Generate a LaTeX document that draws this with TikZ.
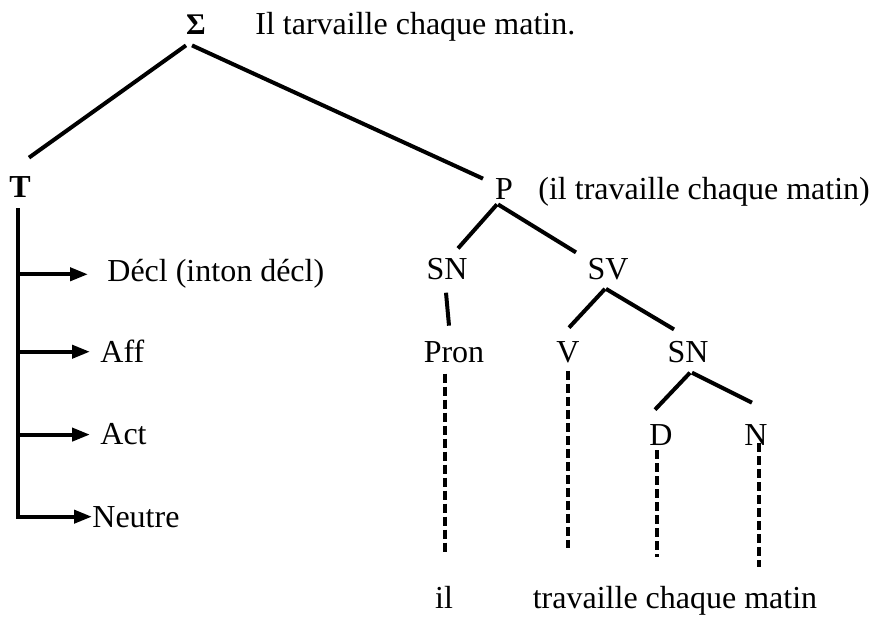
\documentclass[tikz,border=0pt]{standalone}
\usepackage{fontspec}
\setmainfont{Liberation Serif}
\usetikzlibrary{arrows.meta,calc}

\tikzset{
	word/.style={inner sep=0pt, anchor=base},
	gloss/.style={inner sep=0pt, anchor=base west},
	branch/.style={line width=2pt},
	leaf/.style={line width=2pt, dash pattern=on 4.5pt off 2pt},
	feature/.style={line width=2pt, -{Triangle[length=9pt,width=6.5pt]}}
}

\begin{document}
\begin{tikzpicture}[x=0.5pt, y=-0.5pt, font=\fontsize{16}{19}\selectfont]
	\useasboundingbox (0,0) rectangle (872,619);

	% top of the tree
	\node[word, font=\fontsize{15}{18}\selectfont\bfseries] (sigma) at (196,35) {Σ};
	\node[gloss] (phrase) at (255,35) {Il tarvaille chaque matin.};
	\node[word, font=\fontsize{16}{19}\selectfont\bfseries] (T) at (20,198) {T};
	\node[word] (P) at (504,200) {P};
	\node[gloss] (pgloss) at (538,200) {(il travaille chaque matin)};

	% T features
	\node[gloss] (decl) at (107,282) {Décl (inton décl)};
	\node[gloss] (aff) at (100,363) {Aff};
	\node[gloss] (act) at (100,445) {Act};
	\node[gloss] (neutre) at (92,527) {Neutre};

	% P constituents
	\node[word] (sn1) at (447,280) {SN};
	\node[word] (sv) at (608,280) {SV};
	\node[word] (pron) at (454,363) {Pron};
	\node[word] (v) at (568,363) {V};
	\node[word] (sn2) at (688,363) {SN};
	\node[word] (d) at (661,446) {D};
	\node[word] (n) at (756,446) {N};
	\node[word] (il) at (444,608) {il};
	\node[word] (rest) at (675,608) {travaille chaque matin};

	\draw[branch] ($(sigma.south)+(-10,10)$) -- ($(T.north)+(9,-19)$);
	\draw[branch] ($(sigma.south)+(-4,10)$) -- ($(P.north)+(-21,0)$);
	\draw[branch] ($(P.south)+(-7,4)$) -- ($(sn1.north)+(11,-10)$);
	\draw[branch] ($(P.south)+(-6,4)$) -- ($(sv.north)+(-32,-6)$);
	\draw[branch] ($(sn1.south)+(-1,12)$) -- ($(pron.north)+(-5,-16)$);
	\draw[branch] ($(sv.south)+(-3,8)$) -- ($(v.north)+(1,-14)$);
	\draw[branch] ($(sv.south)+(-2,8)$) -- ($(sn2.north)+(-14,-12)$);
	\draw[branch] ($(sn2.south)+(2,9)$) -- ($(d.north)+(-6,-15)$);
	\draw[branch] ($(sn2.south)+(4,9)$) -- ($(n.north)+(-4,-22)$);

	\draw[leaf] ($(pron.south)+(-9,10)$) -- ++(0,180);
	\draw[leaf] ($(v.south)+(0,7)$) -- ++(0,177);
	\draw[leaf] ($(d.south)+(-4,4)$) -- ++(0,107);
	\draw[leaf] ($(n.south)+(3,-3)$) -- ++(0,124);

	\coordinate (stem) at ($(T.south)+(-2,10)$);
	\draw[feature] (stem) |- (neutre.west);
	\foreach \f/\gap in {decl/19, aff/10, act/10}
	\draw[feature] (stem |- \f.west) -- ($(\f.west)+(-\gap,0)$);
\end{tikzpicture}
\end{document}
